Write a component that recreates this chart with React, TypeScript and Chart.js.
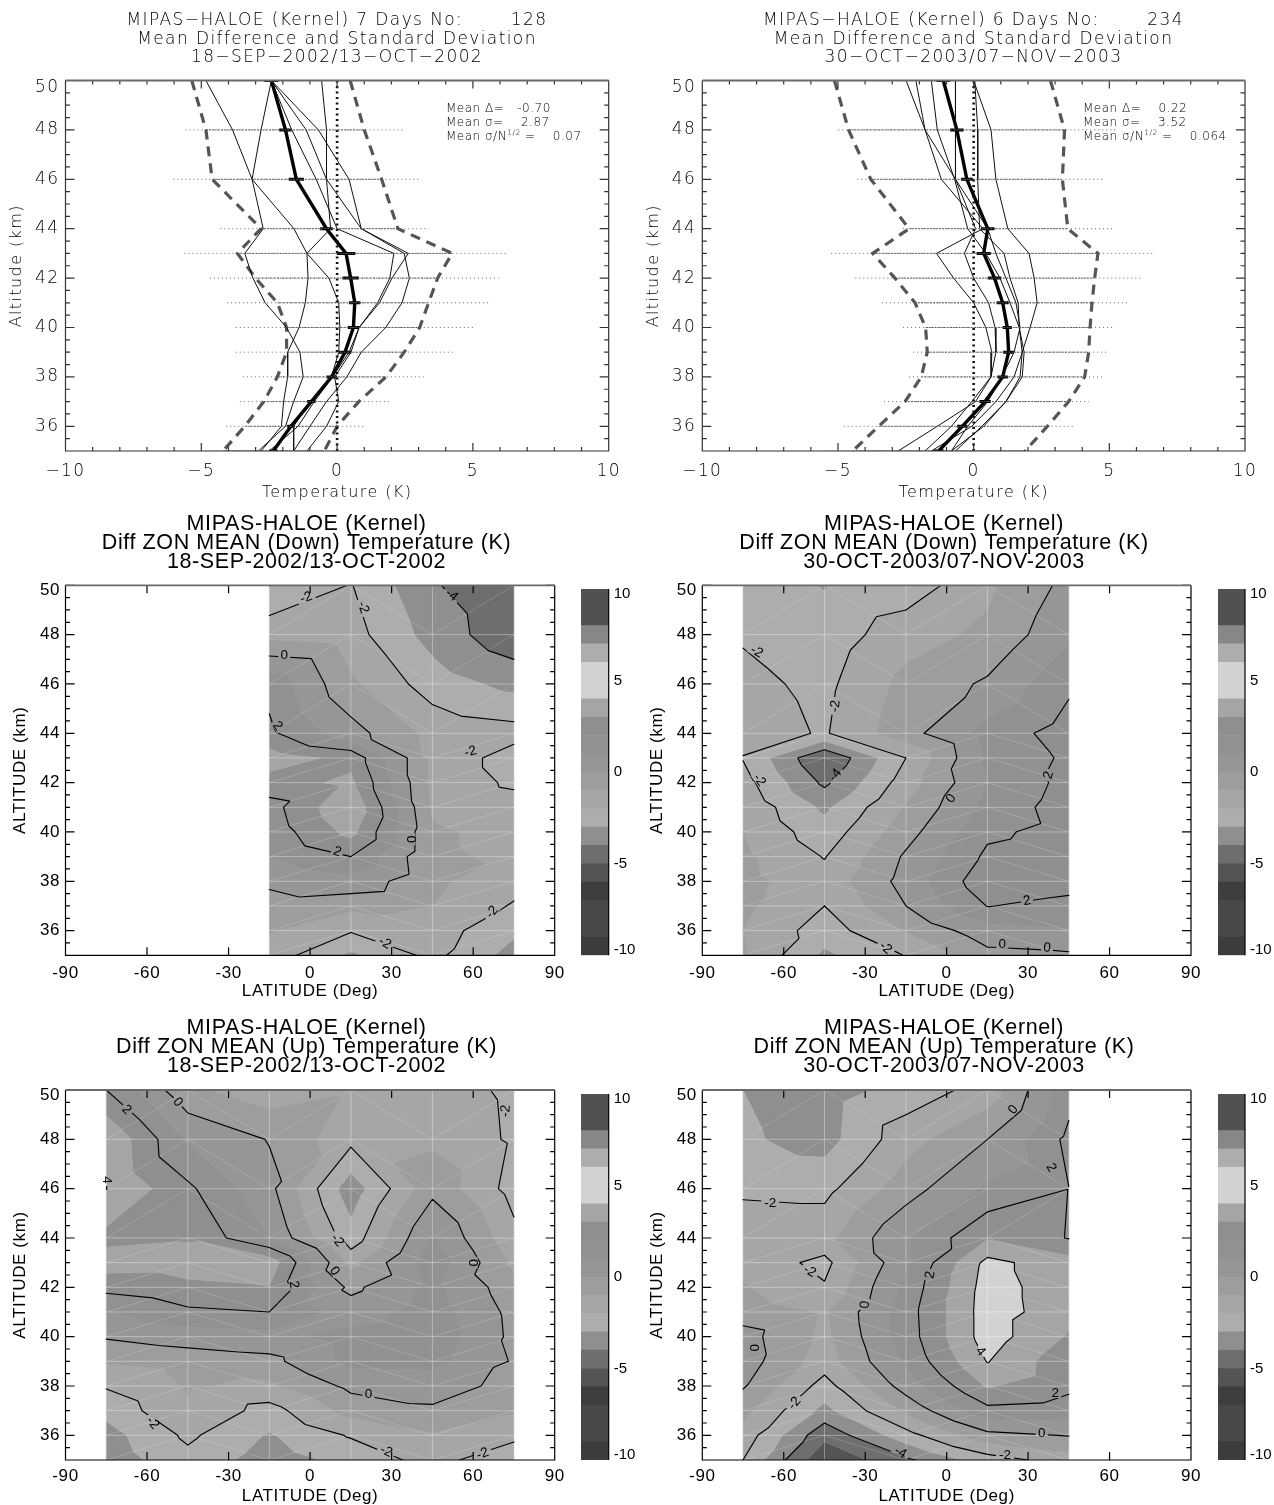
import React, { useEffect, useRef } from "react";
import { Chart, registerables } from "chart.js";
Chart.register(...registerables);

const ALT = [50, 48, 46, 44, 43, 42, 41, 40, 39, 38, 37, 36, 35];
const ALT_TICKS = [36, 38, 40, 42, 44, 46, 48, 50];
const TEMP_TICKS = [-10, -5, 0, 5, 10];
const LAT_TICKS = [-90, -60, -30, 0, 30, 60, 90];
const BAR_TICKS = [-9.73, -5, 0, 5, 9.73];
const LEVELS = [-4, -2, 0, 2, 4];
const BAND_EDGES = [-10, -9, -8, -7, -6, -5, -4, -3, -2, -1, 0, 1, 2, 3, 4, 5, 6, 7, 8, 9, 10];
const BAND_COLORS = ["#3c3c3c", "#484848", "#484848", "#3e3e3e", "#545454", "#6e6e6e", "#8f8f8f", "#adadad", "#a6a6a6", "#9d9d9d", "#969696", "#919191", "#8f8f8f", "#a5a5a5", "#d2d2d2", "#d2d2d2", "#adadad", "#878787", "#515151", "#515151"];

// Top left profile panel
const TL_MEAN = [-2.42, -1.9, -1.5, -0.39, 0.33, 0.5, 0.65, 0.6, 0.29, -0.2, -0.95, -1.7, -2.35];
const TL_LOW = [-5.35, -4.83, -4.6, -2.8, -3.67, -3.0, -2.2, -1.86, -1.86, -2.2, -2.7, -3.4, -4.2];
const TL_HIGH = [0.48, 1.0, 1.64, 2.24, 4.24, 3.7, 3.37, 3.04, 2.47, 1.8, 0.8, 0, -0.47];
const TL_OUT_LOW = [-5.3, -5.58, -6.03, -4.3, -5.62, -4.68, -4.05, -3.73, -3.73, -3.47, -3.58, -4.08, -5.0];
const TL_OUT_HIGH = [0.5, 2.47, 3.07, 3.37, 6.23, 5.95, 5.59, 5.1, 4.27, 3.19, 1.98, 1.04, 0.2];
const TL_ERR = [0.26, 0.23, 0.28, 0.23, 0.34, 0.3, 0.21, 0.21, 0.23, 0.19, 0.15, 0.14, 0.15];
const TL_BINS = [
  [-4.83, -3.85, -3.13, -2.72, -3.4, -3.1, -2.65, -1.86, -1.37, -1.25, -1.6, -1.9, -2.9],
  [-2.42, -2.8, -3.13, -1.59, -1.11, -1.07, -1.17, -1.4, -1.82, -1.82, -1.97, -2.05, -2.8],
  [-0.57, -0.39, -0.39, -0.24, -1.11, -0.3, 0.06, 0.1, 0.06, -0.21, -1.0, -1.6, -1.6],
  [-2.42, -0.69, 0.44, 0.89, 2.62, 2.02, 1.56, 0.81, 0.44, -0.17, -0.84, -1.44, -2.5],
  [-2.42, -1.14, -0.39, 0.89, 2.47, 2.66, 2.39, 1.79, 0.89, 0.36, -0.39, -1.0, -1.6],
  [-2.42, -1.67, -0.77, 0, 2.09, 1.94, 1.49, 0.81, 0.51, -0.09, 0.06, -0.39, -1.11],
];

// Top right profile panel
const TR_MEAN = [-1.12, -0.62, -0.25, 0.52, 0.37, 0.77, 1.07, 1.24, 1.29, 1.07, 0.42, -0.42, -1.29];
const TR_LOW = [-5.13, -4.61, -3.79, -2.38, -3.72, -2.9, -2.16, -1.77, -1.71, -1.93, -2.53, -3.5, -4.46];
const TR_HIGH = [2.83, 3.35, 3.27, 3.47, 4.58, 4.46, 4.36, 4.29, 4.24, 4.09, 3.5, 2.72, 1.89];
const TR_OUT_LOW = [-5.2, -4.99, -4.29, -2.6, -5.25, -4.36, -3.38, -2.6, -2.23, -2.38, -3.3, -4.79, -5.5];
const TR_OUT_HIGH = [2.9, 5.28, 4.76, 5.1, 6.59, 6.2, 5.65, 5.2, 4.98, 4.8, 4.24, 3.68, 2.0];
const TR_ERR = [0.25, 0.25, 0.22, 0.25, 0.26, 0.25, 0.22, 0.17, 0.2, 0.19, 0.21, 0.19, 0.19];
const TR_BINS = [
  [-2.49, -1.79, -1.19, 0.34, -1.37, -0.74, 0, 0.45, 0.67, 0.64, 0.07, -1.34, -2.78],
  [-2.13, -1.79, -0.67, 0.07, -0.34, 0, 0.55, 0.79, 0.82, 0.64, -0.07, -0.82, -1.79],
  [-1.56, -1.34, -0.7, -0.22, 0.45, 0.97, 1.34, 1.68, 1.79, 1.49, 0.82, -0.07, -1.56],
  [-0.67, -0.67, -0.67, 0.52, 0.82, 1.19, 1.56, 1.71, 1.49, 1.04, 0.52, -0.22, -0.82],
  [0.04, 0.15, 0.15, 0.22, 1.12, 1.34, 1.64, 1.68, 1.86, 1.79, 1.19, 0.3, -0.67],
  [0, 0.64, 0.82, 1.26, 2.04, 2.23, 2.34, 2.08, 1.79, 1.71, 1.19, 0.37, -0.82],
];

// Contour panels: one row per latitude, one value per altitude in ALT
const DOWN_2002_LATS = [-15, 15, 45, 75];
const DOWN_2002 = [
  [-3.1, -1.3, 1.7, 2.2, 3.5, 2.6, 1.6, 1.4, 1.0, 0.2, -0.4, -0.9, -1.4],
  [-1.95, -1.6, -0.8, 0.4, 2.7, 3.2, 3.9, 3.3, 2.0, 0.7, -0.7, -1.9, -3.2],
  [-3.9, -3.4, -2.5, -1.3, -1.2, -1.2, -1.1, -0.9, -0.9, -0.8, -1.0, -1.5, -1.7],
  [-4.8, -4.7, -3.3, -1.6, -2.5, -2.2, -1.5, -1.2, -1.1, -1.6, -2.1, -2.8, -3.4],
];
const DOWN_2003_LATS = [-75, -45, -15, 15, 45];
const DOWN_2003 = [
  [-2.6, -2.1, -1.73, -1.5, -2.05, -1.6, -1.2, -1.0, -0.8, -0.7, -0.8, -1.0, -0.9],
  [-3.05, -2.6, -2.25, -2.1, -4.95, -4.2, -3.2, -2.6, -2.05, -1.6, -2.0, -2.5, -3.2],
  [-2.6, -1.4, -0.7, -0.4, -2.0, -1.5, -0.9, -0.4, 0.15, 0.37, 0, -0.9, -1.95],
  [-1.2, -0.8, 0.15, 1.4, 1.2, 1.0, 1.3, 1.8, 2.2, 2.7, 2.03, 0.6, -0.3],
  [0.3, 0.8, 1.8, 2.45, 2.18, 2.33, 2.5, 2.37, 2.5, 2.4, 1.7, 0.9, -0.15],
];
const UP_2002_LATS = [-75, -45, -15, 15, 45, 75];
const UP_2002 = [
  [2.0, 3.9, 4.02, 2.7, 3.5, 2.34, 0.94, 0.1, -0.9, -1.9, -2.7, -3.4, -3.6],
  [-0.78, 0.9, 2.2, 2.9, 3.4, 2.8, 1.8, 0.5, -0.6, -0.9, -1.1, -1.8, -2.3],
  [-1.6, -0.05, 0.3, 1.0, 3.6, 2.95, 2.0, 0.7, -0.3, -1.2, -2.4, -3.1, -3.5],
  [-1.1, -1.7, -3.6, -2.6, -1.3, -0.25, 0.5, 1.4, 1.3, 0.25, -0.6, -1.9, -2.7],
  [-1.5, -1.2, -0.3, 1.1, 1.7, 1.3, 1.5, 1.7, 1.4, 0.3, -0.1, -1.1, -1.6],
  [-2.2, -2.15, -2.4, -1.7, -1.2, -0.6, -0.3, -0.25, -0.1, -0.2, -0.9, -1.7, -2.8],
];
const UP_2003_LATS = [-75, -45, -15, 15, 45];
const UP_2003 = [
  [-3.0, -2.85, -2.2, -1.3, -1.3, -0.9, -0.5, 0.4, 0.5, 0.1, -0.7, -1.4, -2.0],
  [-3.5, -3.4, -2.3, -1.3, -2.3, -1.9, -1.1, -1.25, -1.5, -2.4, -3.3, -4.7, -5.85],
  [-2.6, -1.4, -0.45, 0.9, 0.85, 1.32, 1.55, 1.5, 1.2, 0.45, -0.75, -2.4, -4.2],
  [-1.6, 0, 1.2, 2.9, 4.3, 4.45, 4.5, 4.5, 4.05, 3.1, 1.7, -0.3, -2.5],
  [1.6, 2.25, 1.99, 1.95, 3.4, 3.4, 3.4, 2.9, 2.3, 2.25, 1.5, 0.05, -1.5],
];
// Mesh cells whose diagonal runs the other way: column index, altitude index
const UP_2003_FLIPS = [[3, 2]];

// Contour labels: lat, alt, text, angle
const LABELS_DOWN_2002 = [[-1.5, 49.5, "-2", -20], [19.5, 49.1, "-2", 70], [52, 49.6, "-4", 40], [-9.5, 47.15, "0", 0], [-12, 44.3, "2", 50], [59, 43.25, "-2", -15], [10, 39.2, "2", 20], [37, 39.7, "0", 90], [67, 36.75, "-2", -50], [27.5, 35.5, "-2", 30]];
const LABELS_DOWN_2003 = [[-70, 47.3, "-2", 30], [-41, 45.1, "-2", -85], [-69, 42.1, "-2", 55], [-41, 42.3, "-4", -50], [1.6, 41.35, "0", -55], [37.6, 42.3, "2", -75], [29.6, 37.2, "2", -10], [-22.5, 35.3, "-2", 40], [20.5, 35.45, "0", 0], [37, 35.3, "0", 5]];
const LABELS_UP_2002 = [[-67.5, 49.2, "2", 45], [-48.7, 49.5, "0", 50], [72, 49.15, "-2", -85], [-75, 46.35, "4", 90], [10, 43.9, "-2", 50], [60, 43, "0", 90], [-6, 42.1, "2", 80], [9, 42.65, "0", 55], [21.5, 37.65, "0", 0], [-58, 36.5, "-2", 50], [28, 35.35, "-2", 25], [63.5, 35.25, "-2", -20]];
const LABELS_UP_2003 = [[-65, 45.4, "-2", 0], [24.6, 49.2, "0", -50], [38.5, 46.85, "2", 60], [-6, 42.5, "2", -80], [-50.5, 42.65, "-2", 30], [-30, 41.3, "0", -85], [12.5, 39.4, "4", 50], [40, 37.7, "2", 0], [-56, 37.3, "-2", -50], [35, 36.1, "0", 0], [-71, 39.55, "0", 90], [21.5, 35.2, "-2", 0], [-17, 35.3, "-4", 30]];

const HERSHEY = "'DejaVu Sans Light', 'DejaVu Sans', sans-serif";
const HELV = "'Liberation Sans', Arial, sans-serif";
const INK = "#000";

function ticksPlugin(xMajor: number[], xMinor: number[], yMajor: number[], yMinor: number[], color: string) {
  return {
    id: "idlTicks",
    afterDatasetsDraw(chart: any) {
      const { ctx, chartArea: a, scales } = chart;
      const xs = scales.x, ys = scales.y;
      ctx.save();
      ctx.strokeStyle = color;
      ctx.lineWidth = 1.2;
      ctx.beginPath();
      const vt = (v: number, l: number) => {
        const p = xs.getPixelForValue(v);
        ctx.moveTo(p, a.bottom); ctx.lineTo(p, a.bottom - l);
        ctx.moveTo(p, a.top); ctx.lineTo(p, a.top + l);
      };
      const ht = (v: number, l: number) => {
        const p = ys.getPixelForValue(v);
        ctx.moveTo(a.left, p); ctx.lineTo(a.left + l, p);
        ctx.moveTo(a.right, p); ctx.lineTo(a.right - l, p);
      };
      xMajor.forEach((v) => vt(v, 8));
      xMinor.forEach((v) => vt(v, 4));
      yMajor.forEach((v) => ht(v, 9));
      yMinor.forEach((v) => ht(v, 4.5));
      ctx.moveTo(a.left, a.top); ctx.lineTo(a.left, a.bottom); ctx.lineTo(a.right, a.bottom); ctx.lineTo(a.right, a.top);
      ctx.stroke();
      ctx.strokeStyle = "#6a6a6a";
      ctx.lineWidth = 1.8;
      ctx.beginPath();
      ctx.moveTo(a.left, a.top); ctx.lineTo(a.right, a.top);
      ctx.stroke();
      ctx.restore();
    },
  };
}

const minorRange = (lo: number, hi: number, step: number) => {
  const out: number[] = [];
  for (let v = lo; v <= hi + 1e-6; v += step) out.push(v);
  return out;
};

function lineScales(xTicks: number[], xMin: number, xMax: number, xTitle: string, yTitle: string, font: any, yWidth: number, xHeight: number, pads: any) {
  return {
    x: {
      type: "linear", min: xMin, max: xMax,
      afterBuildTicks: (s: any) => { s.ticks = xTicks.map((value) => ({ value })); },
      afterFit: (s: any) => { s.height = xHeight; },
      grid: { display: false, drawTicks: false }, border: { display: false },
      ticks: { autoSkip: false, maxRotation: 0, padding: pads.xTick, color: pads.color, font, callback: pads.fmt },
      title: { display: true, text: xTitle, color: pads.color, font: pads.titleFont, padding: { top: 0, bottom: pads.xTitle } },
    },
    y: {
      type: "linear", min: 35, max: 50,
      // the top label sits just under the axis end, as in the original plots
      afterBuildTicks: (s: any) => { s.ticks = ALT_TICKS.map((value) => ({ value: value === 50 ? pads.topTick : value })); },
      afterFit: (s: any) => { s.width = yWidth; },
      grid: { display: false, drawTicks: false }, border: { display: false },
      ticks: { autoSkip: false, padding: pads.yTick, color: pads.color, font, callback: (v: any) => String(Math.round(Number(v))) },
      title: { display: true, text: yTitle, color: pads.color, font: pads.titleFont, padding: { top: pads.yTitle, bottom: 0 } },
    },
    // empty right-hand axis: holds the margin so the title stays centred on the whole canvas
    spare: {
      type: "linear", position: "right", min: 0, max: 1,
      afterFit: (s: any) => { s.width = pads.rightW; },
      grid: { display: false, drawTicks: false }, border: { display: false },
      ticks: { display: false }, title: { display: false },
    },
  };
}

const segs = (lo: number[], hi: number[]) => {
  const out: any[] = [];
  ALT.forEach((a, i) => { out.push({ x: lo[i], y: a }, { x: hi[i], y: a }, { x: NaN, y: NaN }); });
  return out;
};
const pts = (vals: number[]) => vals.map((x, i) => ({ x, y: ALT[i] }));

function buildProfile(canvas: HTMLCanvasElement, p: any) {
  const font = { family: HERSHEY, size: 17, weight: 300, lineHeight: 1.2 };
  const titleFont = { family: HERSHEY, size: 16, weight: 300, lineHeight: 1 };
  const line = (data: any[], borderColor: string, borderWidth: number, borderDash: number[] = []) => ({
    data, borderColor, borderWidth, borderDash, showLine: true, pointRadius: 0, tension: 0, fill: false, spanGaps: false,
  });
  const statsPlugin = {
    id: "stats",
    afterDraw(chart: any) {
      const ctx = chart.ctx;
      ctx.save();
      ctx.fillStyle = "#000";
      ctx.textBaseline = "middle";
      ctx.textAlign = "left";
      (ctx as any).letterSpacing = "0.5px";
      ctx.font = `300 12px ${HERSHEY}`;
      const x = p.statX;
      ctx.fillText(p.stats[0], x, 109);
      ctx.fillText(p.stats[1], x, 123);
      ctx.fillText("Mean σ/N", x, 137);
      const w = ctx.measureText("Mean σ/N").width;
      ctx.font = `300 7.5px ${HERSHEY}`;
      ctx.fillText("1/2", x + w, 133);
      const w2 = ctx.measureText("1/2").width;
      ctx.font = `300 12px ${HERSHEY}`;
      ctx.fillText(p.stats[2], x + w + w2, 137);
      ctx.restore();
    },
  };
  const spacing = {
    id: "spacing",
    beforeDraw(chart: any) { (chart.ctx as any).letterSpacing = "1.4px"; },
  };
  return new Chart(canvas, {
    type: "scatter",
    data: {
      datasets: [
        line(segs(p.outLow, p.outHigh), "#555", 0.9, [1, 3]),
        line(segs(p.low, p.high), "#555", 0.9, [2, 1]),
        ...p.bins.map((b: number[]) => line(pts(b), "#111", 1)),
        line(pts(p.mean.map(() => 0)), "#111", 2.6, [2, 3.5]),
        line(pts(p.low), "#555", 3.2, [10, 7]),
        line(pts(p.high), "#555", 3.2, [10, 7]),
        line(pts(p.mean), "#000", 3.4),
        line(segs(p.mean.map((m: number, i: number) => m - p.err[i]), p.mean.map((m: number, i: number) => m + p.err[i])), "#000", 3),
      ],
    } as any,
    options: {
      responsive: false, animation: false, devicePixelRatio: 1,
      layout: { autoPadding: false, padding: 0 },
      plugins: {
        legend: { display: false }, tooltip: { enabled: false },
        title: { display: true, text: p.title, color: INK, font: { family: HERSHEY, size: 17, weight: 300, lineHeight: 18.5 / 17 }, padding: { top: 11.75, bottom: 13.25 } },
      },
      scales: lineScales(TEMP_TICKS, -10, 10, "Temperature (K)", "Altitude (km)", font, p.yWidth, 59, {
        xTick: 10, yTick: 6, color: INK, titleFont, xTitle: 9.3, yTitle: p.yTitle, topTick: 49.72, rightW: p.padRight,
        fmt: (v: any) => String(v).replace("-", "\u2212"),
      }),
    } as any,
    plugins: [spacing, ticksPlugin(TEMP_TICKS, minorRange(-10, 10, 1), ALT_TICKS, minorRange(35, 50, 0.5), "#333"), statsPlugin] as any,
  });
}

function bandOf(poly: any[], lo: number, hi: number) {
  const clip = (pts: any[], lim: number, keepAbove: boolean) => {
    const out: any[] = [];
    for (let i = 0; i < pts.length; i++) {
      const a = pts[i], b = pts[(i + 1) % pts.length];
      const ia = keepAbove ? a.v >= lim : a.v <= lim;
      const ib = keepAbove ? b.v >= lim : b.v <= lim;
      if (ia) out.push(a);
      if (ia !== ib) {
        const t = (lim - a.v) / (b.v - a.v);
        out.push({ x: a.x + t * (b.x - a.x), y: a.y + t * (b.y - a.y), v: lim });
      }
    }
    return out;
  };
  return clip(clip(poly, lo, true), hi, false);
}

function meshTriangles(lats: number[], grid: number[][], flips: number[][]) {
  const tris: any[][] = [];
  for (let c = 0; c < lats.length - 1; c++) {
    const lowLeftBase = Math.round((lats[c] + 75) / 30) % 2 === 0;
    for (let r = 0; r < ALT.length - 1; r++) {
      const flipped = flips.some((f) => f[0] === c && f[1] === r);
      const lowLeft = flipped ? !lowLeftBase : lowLeftBase;
      const ul = { x: lats[c], y: ALT[r], v: grid[c][r] };
      const ur = { x: lats[c + 1], y: ALT[r], v: grid[c + 1][r] };
      const ll = { x: lats[c], y: ALT[r + 1], v: grid[c][r + 1] };
      const lr = { x: lats[c + 1], y: ALT[r + 1], v: grid[c + 1][r + 1] };
      if (lowLeft) { tris.push([ll, ur, ul], [ll, lr, ur]); }
      else { tris.push([ul, lr, ll], [ul, ur, lr]); }
    }
  }
  return tris;
}

function contourPlugin(lats: number[], grid: number[][], labels: any[], flips: number[][]) {
  const tris = meshTriangles(lats, grid, flips);
  return {
    id: "contour",
    beforeDraw(chart: any) { (chart.ctx as any).letterSpacing = "0.6px"; },
    beforeDatasetsDraw(chart: any) {
      const { ctx, chartArea: a, scales } = chart;
      const X = (v: number) => scales.x.getPixelForValue(v);
      const Y = (v: number) => scales.y.getPixelForValue(v);
      ctx.save();
      ctx.beginPath();
      ctx.rect(a.left, a.top, a.right - a.left, a.bottom - a.top);
      ctx.clip();
      BAND_COLORS.forEach((col, i) => {
        const lo = BAND_EDGES[i], hi = BAND_EDGES[i + 1];
        ctx.fillStyle = col; ctx.strokeStyle = col; ctx.lineWidth = 0.5;
        ctx.beginPath();
        tris.forEach((t) => {
          const poly = bandOf(t, lo, hi);
          if (poly.length < 3) return;
          poly.forEach((p: any, k: number) => (k ? ctx.lineTo(X(p.x), Y(p.y)) : ctx.moveTo(X(p.x), Y(p.y))));
          ctx.closePath();
        });
        ctx.fill();
        ctx.stroke();
      });
      // faint mesh: straight grid lines a little stronger than the diagonals
      ctx.lineWidth = 1;
      const edge = (p: any, q: any) => { ctx.moveTo(X(p.x), Y(p.y)); ctx.lineTo(X(q.x), Y(q.y)); };
      [false, true].forEach((straight) => {
        ctx.strokeStyle = straight ? "rgba(255,255,255,0.2)" : "rgba(255,255,255,0.1)";
        ctx.beginPath();
        tris.forEach((t) => {
          for (let i = 0; i < 3; i++) {
            const p = t[i], q = t[(i + 1) % 3];
            const isStraight = p.x === q.x || p.y === q.y;
            if (isStraight === straight) edge(p, q);
          }
        });
        ctx.stroke();
      });
      ctx.restore();

      // contour lines, opened where the labels sit
      ctx.save();
      ctx.beginPath();
      ctx.rect(a.left - 3, a.top, a.right - a.left + 6, a.bottom - a.top);
      const cleared: any[] = [];
      labels.forEach(([la, al, txt, ang]) => {
        const px = X(la), py = Y(al), r = (ang * Math.PI) / 180;
        const hw = txt.length > 1 ? 9 : 6, hh = 4.5;
        const c = Math.cos(r), s = Math.sin(r);
        const corner = (dx: number, dy: number) => [px + dx * c - dy * s, py + dx * s + dy * c];
        const pts4 = [corner(-hw, -hh), corner(-hw, hh), corner(hw, hh), corner(hw, -hh)];
        pts4.forEach((q, k) => (k ? ctx.lineTo(q[0], q[1]) : ctx.moveTo(q[0], q[1])));
        ctx.closePath();
        cleared.push([px, py, txt, r]);
      });
      ctx.clip("evenodd");
      ctx.strokeStyle = "#000";
      ctx.lineWidth = 1.15;
      ctx.lineCap = "round";
      ctx.beginPath();
      LEVELS.forEach((lev) => {
        const L = lev + 0.0013;
        tris.forEach((t) => {
          const cross: any[] = [];
          for (let i = 0; i < 3; i++) {
            const p = t[i], q = t[(i + 1) % 3];
            if ((p.v - L) * (q.v - L) < 0) {
              const f = (L - p.v) / (q.v - p.v);
              cross.push([p.x + f * (q.x - p.x), p.y + f * (q.y - p.y)]);
            }
          }
          if (cross.length === 2) {
            ctx.moveTo(X(cross[0][0]), Y(cross[0][1]));
            ctx.lineTo(X(cross[1][0]), Y(cross[1][1]));
          }
        });
      });
      ctx.stroke();
      ctx.restore();

      ctx.save();
      ctx.fillStyle = "#000";
      (ctx as any).letterSpacing = "0px";
      ctx.font = `13.5px ${HELV}`;
      ctx.textAlign = "center";
      ctx.textBaseline = "middle";
      cleared.forEach(([px, py, txt, r]) => {
        ctx.save();
        ctx.translate(px, py);
        ctx.rotate(r);
        ctx.fillText(txt, 0, 0);
        ctx.restore();
      });
      ctx.restore();
    },
  };
}

function buildContour(canvas: HTMLCanvasElement, p: any) {
  const font = { family: HELV, size: 17, lineHeight: 1.2 };
  const titleFont = { family: HELV, size: 17, lineHeight: 1 };
  const gridPts: any[] = [];
  p.lats.forEach((la: number, c: number) => ALT.forEach((al, r) => gridPts.push({ x: la, y: al, v: p.grid[c][r] })));
  return new Chart(canvas, {
    type: "scatter",
    data: { datasets: [{ data: gridPts, pointRadius: 0, showLine: false }] } as any,
    options: {
      responsive: false, animation: false, devicePixelRatio: 1,
      layout: { autoPadding: false, padding: 0 },
      plugins: {
        legend: { display: false }, tooltip: { enabled: false },
        title: { display: true, text: p.title, color: "#000", font: { family: HELV, size: p.titleSize, weight: "normal", lineHeight: 19 / p.titleSize }, padding: p.titlePad },
      },
      scales: lineScales(LAT_TICKS, -90, 90, "LATITUDE (Deg)", "ALTITUDE (km)", font, p.yWidth, p.xHeight, {
        xTick: p.xTick, yTick: 5.5, color: "#000", titleFont, xTitle: p.xTitle, yTitle: p.yTitle, topTick: 49.8, rightW: p.padRight,
        fmt: (v: any) => String(v),
      }),
    } as any,
    plugins: [contourPlugin(p.lats, p.grid, p.labels, p.flips || []), ticksPlugin(LAT_TICKS, [], ALT_TICKS, minorRange(35, 50, 0.5), "#000")] as any,
  });
}

function buildBar(canvas: HTMLCanvasElement, p: any) {
  return new Chart(canvas, {
    type: "bar",
    data: {
      labels: [""],
      datasets: BAND_COLORS.map((c, i) => ({
        data: [[BAND_EDGES[i], BAND_EDGES[i + 1]]], backgroundColor: c, borderWidth: 0,
        barPercentage: 1, categoryPercentage: 1, grouped: false,
      })),
    } as any,
    options: {
      responsive: false, animation: false, devicePixelRatio: 1,
      layout: { autoPadding: false, padding: { left: 11, right: 0, top: p.top, bottom: p.bottom } },
      plugins: { legend: { display: false }, tooltip: { enabled: false }, title: { display: false } },
      scales: {
        x: { display: false },
        y: {
          position: "right", min: -10, max: 10,
          afterBuildTicks: (s: any) => { s.ticks = BAR_TICKS.map((value) => ({ value })); },
          afterFit: (s: any) => { s.width = p.axisW; },
          grid: { display: false, drawTicks: false }, border: { display: false },
          ticks: { autoSkip: false, padding: 5, color: "#000", font: { family: HELV, size: 15 }, callback: (v: any) => String(Math.round(Number(v))) },
        },
      },
    } as any,
    plugins: [{
      id: "barEdge",
      afterDraw(chart: any) {
        const { ctx, chartArea: a } = chart;
        ctx.save();
        ctx.strokeStyle = "#000"; ctx.lineWidth = 1.2;
        ctx.beginPath(); ctx.moveTo(a.right, a.top); ctx.lineTo(a.right, a.bottom); ctx.stroke();
        ctx.restore();
      },
    }] as any,
  });
}

function Panel({ left, top, width, height, build }: any) {
  const ref = useRef<HTMLCanvasElement>(null);
  useEffect(() => {
    const c = build(ref.current);
    return () => c.destroy();
  }, []);
  return <canvas ref={ref} width={width} height={height} style={{ position: "absolute", left, top, width, height, display: "block" }} />;
}

const profile = (cfg: any) => (el: HTMLCanvasElement) => buildProfile(el, cfg);
const contour = (cfg: any) => (el: HTMLCanvasElement) => buildContour(el, cfg);
const bar = (cfg: any) => (el: HTMLCanvasElement) => buildBar(el, cfg);

const T2002 = "18-SEP-2002/13-OCT-2002";
const T2003 = "30-OCT-2003/07-NOV-2003";
const DOWN = "Diff ZON MEAN (Down) Temperature (K)";
const UP = "Diff ZON MEAN (Up) Temperature (K)";
const KERNEL = "MIPAS-HALOE (Kernel)";
const ROW2 = { xHeight: 59.7, xTick: 7.5, xTitle: 14.8, titlePad: { top: 4.5, bottom: 13.8 } };
const ROW3 = { xHeight: 45, xTick: 6.5, xTitle: 0, titlePad: { top: 8.5, bottom: 14.5 } };
const COL1 = { yWidth: 65.5, padRight: 58.3, titleSize: 21.5, yTitle: 11.5 };
const COL2 = { yWidth: 62.3, padRight: 57, titleSize: 21.5, yTitle: 8.5 };

export default function App() {
  return (
    <div style={{ position: "absolute", left: 0, top: 0, width: 1274, height: 1505, overflow: "hidden", background: "#fff" }}>
      <Panel left={0} top={0} width={674} height={510} build={profile({
        title: ["MIPAS\u2212HALOE (Kernel) 7 Days No:       128", "Mean Difference and Standard Deviation", "18\u2212SEP\u22122002/13\u2212OCT\u22122002"],
        mean: TL_MEAN, low: TL_LOW, high: TL_HIGH, outLow: TL_OUT_LOW, outHigh: TL_OUT_HIGH, err: TL_ERR, bins: TL_BINS,
        stats: ["Mean Δ=   -0.70", "Mean σ=    2.87", " =    0.07"], statX: 446, yWidth: 65.5, padRight: 65.3, yTitle: 8.5,
      })} />
      <Panel left={640} top={0} width={667} height={510} build={profile({
        title: ["MIPAS\u2212HALOE (Kernel) 6 Days No:       234", "Mean Difference and Standard Deviation", "30\u2212OCT\u22122003/07\u2212NOV\u22122003"],
        mean: TR_MEAN, low: TR_LOW, high: TR_HIGH, outLow: TR_OUT_LOW, outHigh: TR_OUT_HIGH, err: TR_ERR, bins: TR_BINS,
        stats: ["Mean Δ=    0.22", "Mean σ=    3.52", " =    0.064"], statX: 443, yWidth: 62.3, padRight: 62, yTitle: 6,
      })} />
      <Panel left={0} top={510} width={613} height={505} build={contour({ ...ROW2, ...COL1, title: [KERNEL, DOWN, T2002], lats: DOWN_2002_LATS, grid: DOWN_2002, labels: LABELS_DOWN_2002 })} />
      <Panel left={640} top={510} width={608} height={505} build={contour({ ...ROW2, ...COL2, title: [KERNEL, DOWN, T2003], lats: DOWN_2003_LATS, grid: DOWN_2003, labels: LABELS_DOWN_2003 })} />
      <Panel left={0} top={1010} width={613} height={495} build={contour({ ...ROW3, ...COL1, title: [KERNEL, UP, T2002], lats: UP_2002_LATS, grid: UP_2002, labels: LABELS_UP_2002 })} />
      <Panel left={640} top={1010} width={608} height={495} build={contour({ ...ROW3, ...COL2, title: [KERNEL, UP, T2003], lats: UP_2003_LATS, grid: UP_2003, labels: LABELS_UP_2003, flips: UP_2003_FLIPS })} />
      <Panel left={570} top={575} width={70} height={400} build={bar({ top: 10.3, bottom: 19.7, axisW: 31.3 })} />
      <Panel left={1207} top={575} width={67} height={400} build={bar({ top: 10.3, bottom: 19.7, axisW: 29 })} />
      <Panel left={570} top={1080} width={70} height={400} build={bar({ top: 10, bottom: 20, axisW: 31.3 })} />
      <Panel left={1207} top={1080} width={67} height={400} build={bar({ top: 10, bottom: 20, axisW: 29 })} />
    </div>
  );
}
